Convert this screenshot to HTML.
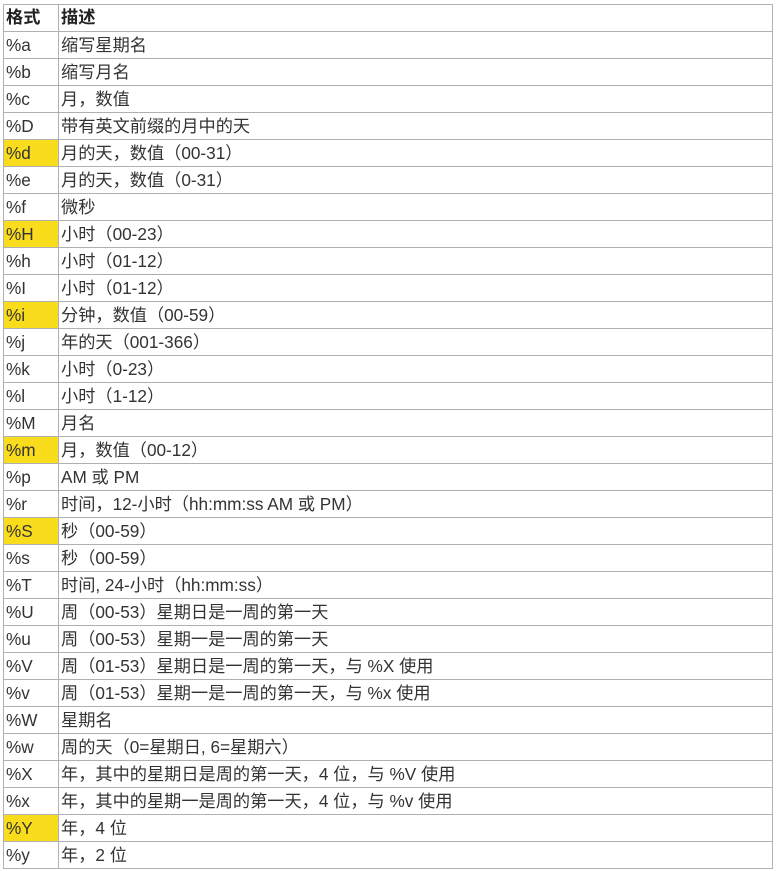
<!DOCTYPE html>
<html><head><meta charset="utf-8"><style>
html,body{margin:0;padding:0;background:#fff;width:777px;height:871px;overflow:hidden}
table{position:absolute;left:3px;top:4px;border-collapse:collapse;width:770px;font-family:"Liberation Sans","Noto Sans CJK SC",sans-serif;font-size:17.2px;color:#333}
td,th{border:1px solid #b0b0b0;height:26px;padding:2px 0 0 2px;box-sizing:border-box;vertical-align:top;line-height:22px;text-align:left}
tr{height:27px}
th{font-weight:bold;color:#222;padding-top:1px}
td:first-child,th:first-child{width:55px}
.hl{background:#f9dc1c}
</style></head><body>
<table>
<tr><th>格式</th><th>描述</th></tr>
<tr><td>%a</td><td>缩写星期名</td></tr>
<tr><td>%b</td><td>缩写月名</td></tr>
<tr><td>%c</td><td>月，数值</td></tr>
<tr><td>%D</td><td>带有英文前缀的月中的天</td></tr>
<tr><td class="hl">%d</td><td>月的天，数值（00-31）</td></tr>
<tr><td>%e</td><td>月的天，数值（0-31）</td></tr>
<tr><td>%f</td><td>微秒</td></tr>
<tr><td class="hl">%H</td><td>小时（00-23）</td></tr>
<tr><td>%h</td><td>小时（01-12）</td></tr>
<tr><td>%I</td><td>小时（01-12）</td></tr>
<tr><td class="hl">%i</td><td>分钟，数值（00-59）</td></tr>
<tr><td>%j</td><td>年的天（001-366）</td></tr>
<tr><td>%k</td><td>小时（0-23）</td></tr>
<tr><td>%l</td><td>小时（1-12）</td></tr>
<tr><td>%M</td><td>月名</td></tr>
<tr><td class="hl">%m</td><td>月，数值（00-12）</td></tr>
<tr><td>%p</td><td>AM 或 PM</td></tr>
<tr><td>%r</td><td>时间，12-小时（hh:mm:ss AM 或 PM）</td></tr>
<tr><td class="hl">%S</td><td>秒（00-59）</td></tr>
<tr><td>%s</td><td>秒（00-59）</td></tr>
<tr><td>%T</td><td>时间, 24-小时（hh:mm:ss）</td></tr>
<tr><td>%U</td><td>周（00-53）星期日是一周的第一天</td></tr>
<tr><td>%u</td><td>周（00-53）星期一是一周的第一天</td></tr>
<tr><td>%V</td><td>周（01-53）星期日是一周的第一天，与 %X 使用</td></tr>
<tr><td>%v</td><td>周（01-53）星期一是一周的第一天，与 %x 使用</td></tr>
<tr><td>%W</td><td>星期名</td></tr>
<tr><td>%w</td><td>周的天（0=星期日, 6=星期六）</td></tr>
<tr><td>%X</td><td>年，其中的星期日是周的第一天，4 位，与 %V 使用</td></tr>
<tr><td>%x</td><td>年，其中的星期一是周的第一天，4 位，与 %v 使用</td></tr>
<tr><td class="hl">%Y</td><td>年，4 位</td></tr>
<tr><td>%y</td><td>年，2 位</td></tr>
</table>
</body></html>
